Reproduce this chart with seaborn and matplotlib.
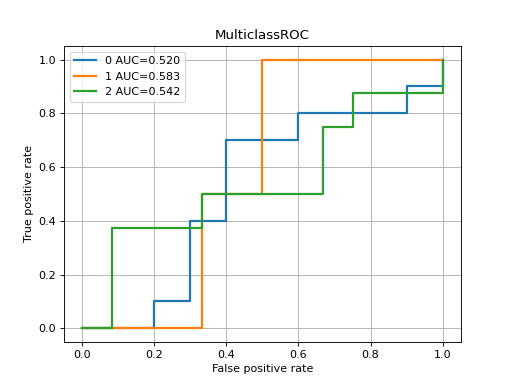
import matplotlib
matplotlib.use("Agg")
import matplotlib.pyplot as plt
import seaborn as sns
import pandas as pd

fpr0 = [0.0, 0.2, 0.2, 0.3, 0.3, 0.4, 0.4, 0.6, 0.6, 0.9, 0.9, 1.0, 1.0]
tpr0 = [0.0, 0.0, 0.1, 0.1, 0.4, 0.4, 0.7, 0.7, 0.8, 0.8, 0.9, 0.9, 1.0]
fpr1 = [0.0, 1/3, 1/3, 0.5, 0.5, 1.0]
tpr1 = [0.0, 0.0, 0.5, 0.5, 1.0, 1.0]
fpr2 = [0.0, 1/12, 1/12, 1/3, 1/3, 2/3, 2/3, 0.75, 0.75, 1.0, 1.0]
tpr2 = [0.0, 0.0, 0.375, 0.375, 0.5, 0.5, 0.75, 0.75, 0.875, 0.875, 1.0]
labels = ["0 AUC=0.520", "1 AUC=0.583", "2 AUC=0.542"]

fig, ax = plt.subplots(figsize=(6.4, 4.8), dpi=80)
colors = ["#1f77b4", "#ff7f0e", "#2ca02c"]
for fpr, tpr, lab, c in zip([fpr0, fpr1, fpr2], [tpr0, tpr1, tpr2], labels, colors):
    df = pd.DataFrame({"fpr": fpr, "tpr": tpr})
    sns.lineplot(data=df, x="fpr", y="tpr", sort=False, estimator=None,
                 ax=ax, label=lab, color=c, linewidth=2)
ax.set_title("MulticlassROC")
ax.set_xlabel("False positive rate")
ax.set_ylabel("True positive rate")
ax.grid(True)
ax.legend(loc="upper left")
fig.savefig("out.png", dpi=80)
